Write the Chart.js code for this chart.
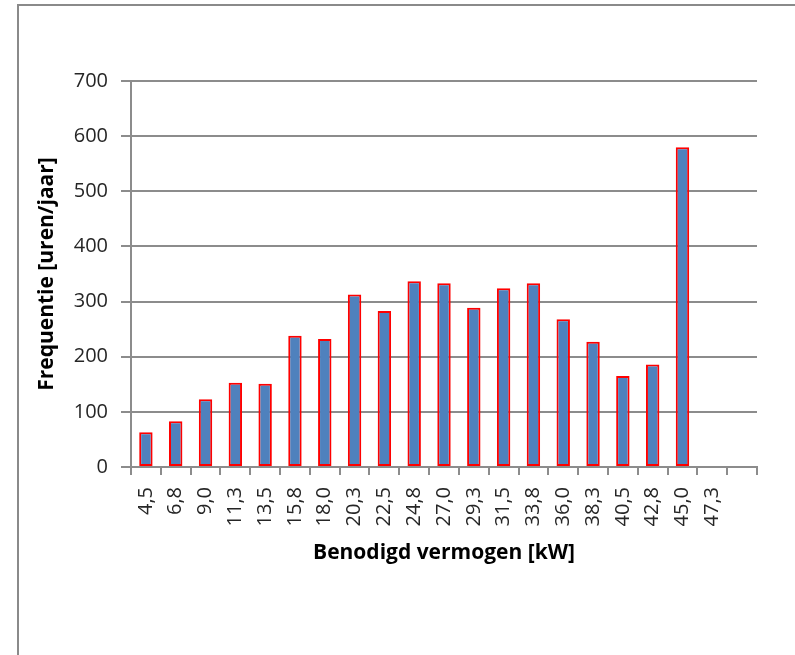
<!DOCTYPE html>
<html>
<head>
<meta charset="utf-8">
<title>Frequentie benodigd vermogen</title>
<script src="https://cdn.jsdelivr.net/npm/chart.js@4"></script>
<style>
    html, body { margin: 0; padding: 0; background: #fff; }
    #wrap { position: relative; width: 795px; height: 655px; overflow: hidden; }
    /* grey chart frame, only left and top edge fall inside the view */
    #frame {
        position: absolute; left: 17px; top: 4px; width: 900px; height: 800px;
        border-left: 2px solid #8a8a8a; border-top: 2px solid #8a8a8a;
    }
    #chart { position: absolute; left: 0; top: 0; }
</style>
</head>
<body>
<div id="wrap">
    <div id="frame"></div>
    <canvas id="chart" width="795" height="655"></canvas>
</div>
<script>
// Benodigd vermogen per klasse [kW] - last slot has no label
const vermogenLabels = [
    '4,5', '6,8', '9,0', '11,3', '13,5', '15,8', '18,0', '20,3', '22,5', '24,8',
    '27,0', '29,3', '31,5', '33,8', '36,0', '38,3', '40,5', '42,8', '45,0', '47,3', ''
];

// Frequentie [uren/jaar]
const urenPerJaar = [
    63, 83, 123, 153, 151, 238, 232, 313, 283, 337,
    333, 289, 324, 333, 268, 227, 165, 186, 580, null, null
];

const yTicks = { min: 0, max: 700, step: 100 };

const gridGrey = '#8c8c8c';

const ctx = document.getElementById('chart');

window.vermogenChart = new Chart(ctx, {
    type: 'bar',
    data: {
        labels: vermogenLabels,
        datasets: [{
            label: 'Frequentie',
            data: urenPerJaar,
            backgroundColor: '#4f81bd',
            borderColor: '#ff0000',
            borderWidth: 2,
            borderSkipped: false,
            barPercentage: 0.45,
            categoryPercentage: 1.0
        }]
    },
    options: {
        responsive: false,
        animation: false,
        devicePixelRatio: 1,
        layout: {
            padding: { left: 30, top: 81, right: 38, bottom: 85 }
        },
        plugins: {
            legend: { display: false },
            tooltip: { enabled: false }
        },
        scales: {
            x: {
                afterFit: function(scale) { scale.height = 103; },
                grid: {
                    drawOnChartArea: false,
                    color: gridGrey,
                    lineWidth: 2,
                    tickLength: 8
                },
                border: { display: true, color: gridGrey, width: 2 },
                ticks: {
                    autoSkip: false,
                    minRotation: 90,
                    maxRotation: 90,
                    padding: 12,
                    color: '#262626',
                    font: { family: "'Open Sans'", size: 20 }
                },
                title: {
                    display: true,
                    text: 'Benodigd vermogen [kW]',
                    color: '#000',
                    font: { family: "'Open Sans'", size: 21, weight: 'bold' }
                }
            },
            y: {
                min: yTicks.min,
                max: yTicks.max,
                afterFit: function(scale) { scale.width = 101; },
                grid: {
                    color: gridGrey,
                    lineWidth: 2,
                    tickLength: 10
                },
                border: { display: true, color: gridGrey, width: 2 },
                ticks: {
                    stepSize: yTicks.step,
                    padding: 13,
                    color: '#262626',
                    font: { family: "'Open Sans'", size: 20 }
                },
                title: {
                    display: true,
                    text: 'Frequentie [uren/jaar]',
                    color: '#000',
                    font: { family: "'Open Sans'", size: 21, weight: 'bold' }
                }
            }
        }
    }
});
</script>
</body>
</html>
